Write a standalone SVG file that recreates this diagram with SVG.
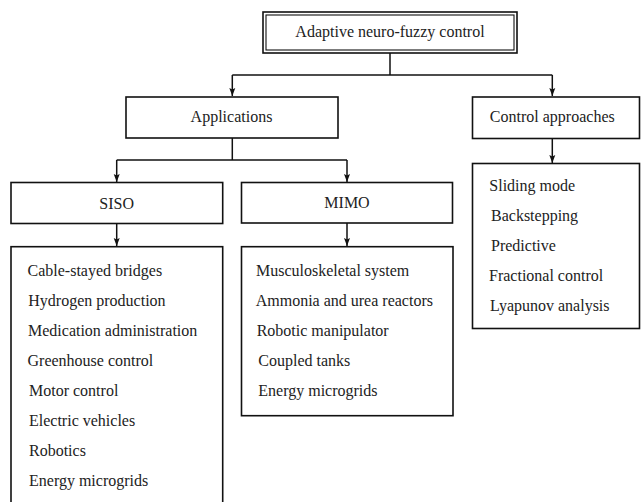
<svg xmlns="http://www.w3.org/2000/svg" width="641" height="502" viewBox="0 0 641 502" font-family="'Liberation Serif', 'Times New Roman', serif">
<defs>
<style>
.box{fill:#fff;stroke:#111;stroke-width:1.6}
.ln{fill:none;stroke:#111;stroke-width:1.5}
.t{font-family:'Liberation Serif','Times New Roman',serif;font-size:16px;fill:#222}
.c{text-anchor:middle}
</style>
<marker id="ah" viewBox="0 0 8 8" refX="8" refY="4" markerWidth="8" markerHeight="8" markerUnits="userSpaceOnUse" orient="auto">
<path d="M0,1 L8,4 L0,7 L1.5,4 Z" fill="#111"/>
</marker>
</defs>
<rect width="641" height="502" fill="#fff"/>
<g id="connectors">
<path class="ln" d="M390,53 V75"/>
<path class="ln" d="M232.3,75 H552.3"/>
<path class="ln" d="M232.3,75 V96" marker-end="url(#ah)"/>
<path class="ln" d="M552.3,75 V96" marker-end="url(#ah)"/>
<path class="ln" d="M232.3,138 V160"/>
<path class="ln" d="M116.7,160 H347"/>
<path class="ln" d="M116.7,160 V182" marker-end="url(#ah)"/>
<path class="ln" d="M347,160 V182" marker-end="url(#ah)"/>
<path class="ln" d="M116.7,223.5 V246" marker-end="url(#ah)"/>
<path class="ln" d="M347,223 V246" marker-end="url(#ah)"/>
<path class="ln" d="M552.3,138.5 V163" marker-end="url(#ah)"/>
</g>
<g id="root">
<rect class="box" x="263" y="12" width="254" height="41"/>
<rect x="266" y="15" width="248" height="35" fill="none" stroke="#111" stroke-width="1.1"/>
<text class="t c" x="390" y="37">Adaptive neuro-fuzzy control</text>
</g>
<g id="applications">
<rect class="box" x="126" y="97" width="212" height="41"/>
<text class="t c" x="231.5" y="121.5">Applications</text>
</g>
<g id="control-approaches">
<rect class="box" x="472.5" y="97" width="167" height="41.5"/>
<text class="t c" x="552.3" y="122">Control approaches</text>
</g>
<g id="siso">
<rect class="box" x="11" y="182.5" width="211.7" height="41"/>
<text class="t c" x="116.7" y="208.5">SISO</text>
</g>
<g id="mimo">
<rect class="box" x="241.5" y="182.5" width="211" height="40.5"/>
<text class="t c" x="347" y="208">MIMO</text>
</g>
<g id="siso-list">
<rect class="box" x="11" y="246.7" width="211.7" height="280"/>
<text class="t" x="27.5" y="276">Cable-stayed bridges</text>
<text class="t" x="28.3" y="306">Hydrogen production</text>
<text class="t" x="28" y="336">Medication administration</text>
<text class="t" x="27.5" y="366">Greenhouse control</text>
<text class="t" x="29" y="396">Motor control</text>
<text class="t" x="29" y="426">Electric vehicles</text>
<text class="t" x="29" y="456">Robotics</text>
<text class="t" x="29" y="485.5">Energy microgrids</text>
</g>
<g id="mimo-list">
<rect class="box" x="241.5" y="246.7" width="211.5" height="169"/>
<text class="t" x="256" y="276">Musculoskeletal system</text>
<text class="t" x="255.7" y="306">Ammonia and urea reactors</text>
<text class="t" x="256.7" y="336">Robotic manipulator</text>
<text class="t" x="258.3" y="365.5">Coupled tanks</text>
<text class="t" x="258.3" y="395.5">Energy microgrids</text>
</g>
<g id="control-list">
<rect class="box" x="472.5" y="163.5" width="167" height="165"/>
<text class="t" x="489.3" y="191">Sliding mode</text>
<text class="t" x="491" y="220.5">Backstepping</text>
<text class="t" x="491" y="250.5">Predictive</text>
<text class="t" x="489" y="280.5">Fractional control</text>
<text class="t" x="490" y="310.5">Lyapunov analysis</text>
</g>
</svg>
